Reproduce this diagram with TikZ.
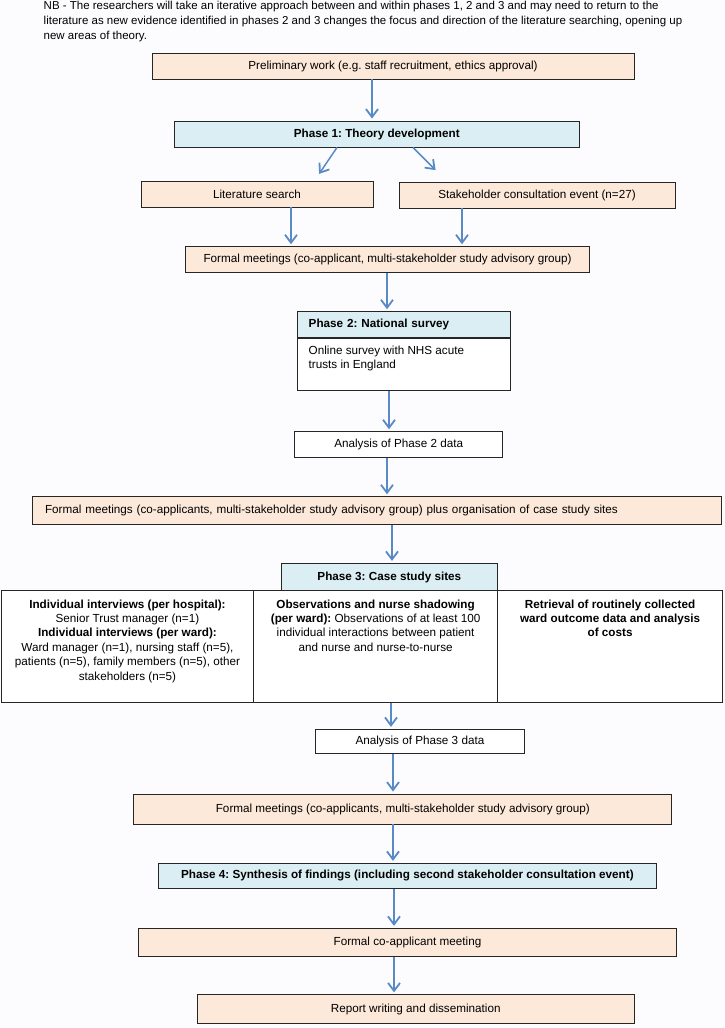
\documentclass[tikz,border=0pt]{standalone}
\usepackage{fontspec}
\setmainfont{Liberation Sans}
\usepackage{tikz}
\usetikzlibrary{arrows.meta}

\definecolor{peachfill}{HTML}{FDE9D9}
\definecolor{phasefill}{HTML}{DBEEF3}
\definecolor{boxline}{HTML}{262626}
\definecolor{flowblue}{HTML}{5A8AC6}
\definecolor{pagebg}{HTML}{FCFCFE}

\newcommand{\boxfont}{\fontsize{11.7}{14.4}\selectfont}
\frenchspacing

\tikzset{
  box/.style={draw=boxline, line width=0.9pt, inner sep=0pt, minimum height=26pt, font=\boxfont},
  peachbox/.style={box, fill=peachfill},
  phasebox/.style={box, fill=phasefill, font=\boxfont\bfseries},
  plainbox/.style={box, fill=white},
  flow/.style={draw=flowblue, line width=1.5pt, -{Straight Barb[length=8pt,width=12pt,line width=1.8pt]}, shorten >=2pt},
}

\begin{document}
\begin{tikzpicture}[x=1pt,y=-1pt]
\fill[pagebg] (0,0) rectangle (724,1028);
\useasboundingbox (0,0) rectangle (724,1028);

\node[anchor=north west, inner sep=0pt, align=left, font=\fontsize{11.5}{15}\selectfont] (nb) at (43.5,0.5) {NB - The researchers will take an iterative approach between and within phases 1, 2 and 3 and may need to return to the\\literature as new evidence identified in phases 2 and 3 changes the focus and direction of the literature searching, opening up\\new areas of theory.};

% phase 1
\node[peachbox, minimum width=482pt] (prelim) at (393,66) {Preliminary work (e.g. staff recruitment, ethics approval)};
\node[phasebox, minimum width=404.5pt] (ph1) at (376.8,134) {Phase 1: Theory development};
\node[peachbox, minimum width=232pt] (lit) at (257,194) {Literature search};
\node[peachbox, minimum width=276pt] (stake) at (537,195) {Stakeholder consultation event (n=27)};
\node[peachbox, minimum width=404pt] (meet1) at (387.6,259.7) {Formal meetings (co-applicant, multi-stakeholder study advisory group)};

% phase 2
\node[phasebox, minimum width=212.8pt, minimum height=25.6pt, text width=191pt, align=left] (ph2) at (404.2,324.5) {Phase 2: National survey};
\node[plainbox, minimum width=212.8pt, minimum height=52.7pt, anchor=north] (survey) at (ph2.south) {\parbox[c][38pt][t]{191pt}{Online survey with NHS acute\\trusts in England}};
\node[plainbox, minimum width=208.2pt, minimum height=25.6pt] (ana2) at (398.7,444.5) {Analysis of Phase 2 data};
\node[peachbox, minimum width=689.3pt, minimum height=27.6pt, text width=664pt, align=left] (meet2) at (377,510.5) {Formal meetings (co-applicants, multi-stakeholder study advisory group) plus organisation of case study sites};

% phase 3
\node[plainbox, minimum width=252.1pt, minimum height=112pt] (col1) at (127.45,646.7) {\parbox[c][94pt][t]{246pt}{\centering
  \textbf{Individual interviews (per hospital):}\\
  Senior Trust manager (n=1)\\
  \textbf{Individual interviews (per ward):}\\
  Ward manager (n=1), nursing staff (n=5),\\
  patients (n=5), family members (n=5), other\\
  stakeholders (n=5)}};
\node[plainbox, minimum width=244.2pt, minimum height=112pt] (col2) at (375.6,646.7) {\parbox[c][94pt][t]{238pt}{\centering
  \textbf{Observations and nurse shadowing}\\
  \textbf{(per ward):} Observations of at least 100\\
  individual interactions between patient\\
  and nurse and nurse-to-nurse}};
\node[plainbox, minimum width=224.8pt, minimum height=112pt] (col3) at (610.1,646.7) {\parbox[c][94pt][t]{218pt}{\centering\bfseries
  Retrieval of routinely collected\\
  ward outcome data and analysis\\
  of costs}};
\node[phasebox, minimum width=216.7pt, minimum height=27.4pt] (ph3) at (389.35,577) {Phase 3: Case study sites};
\node[plainbox, minimum width=209.2pt, minimum height=24.4pt] (ana3) at (419.9,741.5) {Analysis of Phase 3 data};
\node[peachbox, minimum width=537.8pt, minimum height=30pt] (meet3) at (402.8,809) {Formal meetings (co-applicants, multi-stakeholder study advisory group)};

% phase 4
\node[phasebox, minimum width=497.2pt, minimum height=25pt] (ph4) at (407.4,875.8) {Phase 4: Synthesis of findings (including second stakeholder consultation event)};
\node[peachbox, minimum width=537.9pt, minimum height=28.4pt] (coapp) at (407.5,942.5) {Formal co-applicant meeting};
\node[peachbox, minimum width=437.3pt, minimum height=28.3pt] (report) at (415.7,1009) {Report writing and dissemination};

% connectors
\draw[flow] (372,0 |- prelim.south) -- (372,0 |- ph1.north);
\draw[flow] (337,0 |- ph1.south) -- ([xshift=61pt,yshift=5pt]lit.north);
\draw[flow] (413,0 |- ph1.south) -- ([xshift=-100pt,yshift=10pt]stake.north);
\draw[flow] (291,0 |- lit.south) -- (291,0 |- meet1.north);
\draw[flow] (462,0 |- stake.south) -- (462,0 |- meet1.north);
\draw[flow] (387,0 |- meet1.south) -- (387,0 |- ph2.north);
\draw[flow] (389,0 |- survey.south) -- (389,0 |- ana2.north);
\draw[flow] (387,0 |- ana2.south) -- (387,0 |- meet2.north);
\draw[flow] (392,0 |- meet2.south) -- (392,0 |- ph3.north);
\draw[flow] (391,0 |- col2.south) -- (391,0 |- ana3.north);
\draw[flow] (393,0 |- ana3.south) -- (393,0 |- meet3.north);
\draw[flow] (393,0 |- meet3.south) -- (393,0 |- ph4.north);
\draw[flow] (394,0 |- ph4.south) -- (394,0 |- coapp.north);
\draw[flow] (394,0 |- coapp.south) -- (394,0 |- report.north);
\end{tikzpicture}
\end{document}
